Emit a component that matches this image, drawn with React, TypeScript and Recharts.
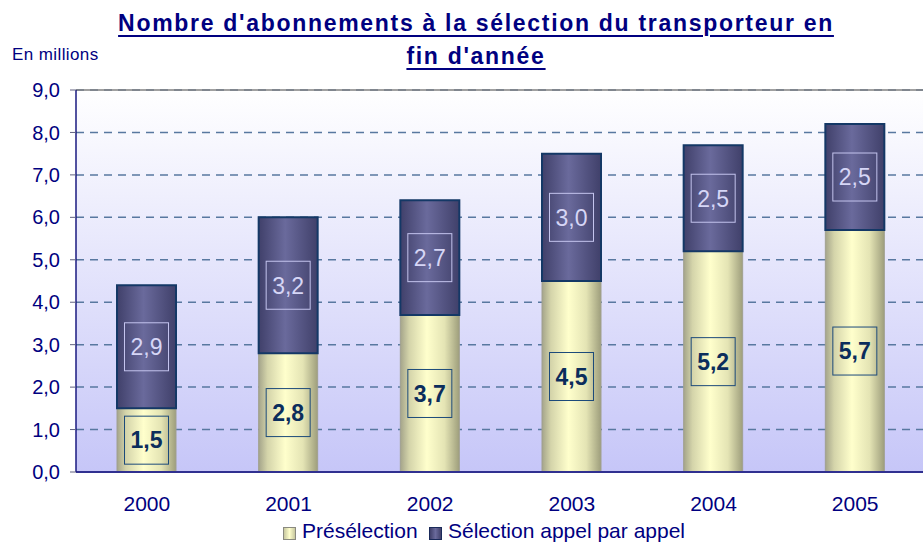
import React from 'react';
import { BarChart, Bar, XAxis, YAxis, CartesianGrid, ReferenceLine, LabelList } from 'recharts';

const years = ['2000', '2001', '2002', '2003', '2004', '2005'];
const preselection = [1.5, 2.8, 3.7, 4.5, 5.2, 5.7];
const selectionAppel = [2.9, 3.2, 2.7, 3.0, 2.5, 2.5];
const yTicks = [0, 1, 2, 3, 4, 5, 6, 7, 8, 9];
const boundaryTicks = [1, 2, 3, 4, 5, 6];

const titleLine1 = "Nombre d'abonnements à la sélection du transporteur en";
const titleLine2 = "fin d'année";
const unitLabel = 'En millions';
const legendPre = 'Présélection';
const legendSel = 'Sélection appel par appel';

const data = years.map((y, i) => ({ year: y, pre: preselection[i], sel: selectionAppel[i] }));

const FONT = '"Liberation Sans", Arial, sans-serif';
const NAVY = '#000080';

const fmt = (v: number) => v.toFixed(1).replace('.', ',');

const PreLabel = (props: any) => {
  const { x, y, width, height, value } = props;
  const cx = x + width / 2;
  const cy = y + height / 2;
  return (
    <g>
      <rect x={cx - 22} y={cy - 24} width={44} height={48} fill="none" stroke="#1c4a7a" strokeWidth={1} />
      <text x={cx} y={cy} dy="0.36em" textAnchor="middle" fontFamily={FONT} fontSize={23} fontWeight="bold" fill="#0b2d5c">
        {fmt(value)}
      </text>
    </g>
  );
};

const SelLabel = (props: any) => {
  const { x, y, width, height, value } = props;
  const cx = x + width / 2;
  const cy = y + height / 2;
  return (
    <g>
      <rect x={cx - 22} y={cy - 24} width={44} height={48} fill="none" stroke="#c4c4ee" strokeWidth={1} />
      <text x={cx} y={cy} dy="0.36em" textAnchor="middle" fontFamily={FONT} fontSize={23} fill="#d6d6f6">
        {fmt(value)}
      </text>
    </g>
  );
};

const XTick = (props: any) => {
  const { x, y, payload } = props;
  return (
    <text x={x} y={y + 39} textAnchor="middle" fontFamily={FONT} fontSize={21} fill={NAVY}>
      {payload.value}
    </text>
  );
};

export default function App() {
  return (
    <div style={{ position: 'fixed', left: 0, top: 0, width: 923, height: 542, overflow: 'hidden', background: '#fff', fontFamily: FONT }}>
      <BarChart width={940} height={542} data={data} margin={{ top: 90, right: 14, bottom: 0, left: 0 }} barCategoryGap={0}>
        <defs>
          <linearGradient id="bgGrad" x1="0" y1="0" x2="0" y2="1">
            <stop offset="0%" stopColor="#ffffff" />
            <stop offset="100%" stopColor="#c6c6f8" />
          </linearGradient>
          <linearGradient id="preGrad" x1="0" y1="0" x2="1" y2="0">
            <stop offset="0%" stopColor="#a4a48a" />
            <stop offset="15%" stopColor="#d4d4aa" />
            <stop offset="45%" stopColor="#ffffcc" />
            <stop offset="75%" stopColor="#e4e4b4" />
            <stop offset="100%" stopColor="#9e9e7c" />
          </linearGradient>
          <linearGradient id="selGrad" x1="0" y1="0" x2="1" y2="0">
            <stop offset="0%" stopColor="#40406a" />
            <stop offset="45%" stopColor="#6a6a9c" />
            <stop offset="100%" stopColor="#40406a" />
          </linearGradient>
        </defs>
        <CartesianGrid vertical={false} fill="url(#bgGrad)" stroke="#5878a0" strokeDasharray="8 6" strokeWidth={1.5} />
        <ReferenceLine y={9} stroke="#808080" strokeWidth={1.5} />
        <XAxis
          xAxisId="bounds"
          type="number"
          domain={[0, 6]}
          ticks={boundaryTicks}
          tick={false}
          axisLine={false}
          tickLine={{ stroke: '#303090', strokeWidth: 1.5 }}
          tickSize={6}
          height={0}
        />
        <XAxis
          dataKey="year"
          axisLine={{ stroke: '#303090', strokeWidth: 2 }}
          tickLine={false}
          tickSize={0}
          tickMargin={0}
          height={70}
          tick={<XTick />}
          interval={0}
        />
        <YAxis
          width={76}
          domain={[0, 9]}
          ticks={yTicks}
          tickFormatter={fmt}
          axisLine={{ stroke: '#1a1a80', strokeWidth: 1.5 }}
          tickLine={{ stroke: '#606080' }}
          tickSize={6}
          tickMargin={10}
          tick={{ fill: NAVY, fontSize: 20, fontFamily: FONT }}
        />
        <Bar dataKey="pre" stackId="a" barSize={59} fill="url(#preGrad)" stroke="#a0a090" strokeWidth={1} isAnimationActive={false}>
          <LabelList dataKey="pre" content={<PreLabel />} />
        </Bar>
        <Bar dataKey="sel" stackId="a" barSize={59} fill="url(#selGrad)" stroke="#143866" strokeWidth={2} isAnimationActive={false}>
          <LabelList dataKey="sel" content={<SelLabel />} />
        </Bar>
      </BarChart>

      <div
        style={{
          position: 'absolute', left: 76, top: 7, width: 800, textAlign: 'center',
          fontSize: 23, lineHeight: '33px', fontWeight: 'bold', color: NAVY, letterSpacing: '1.7px',
          textDecoration: 'underline', textDecorationThickness: '2px', textUnderlineOffset: '4px', fontFamily: FONT,
        }}
      >
        {titleLine1}
        <br />
        {titleLine2}
      </div>

      <div style={{ position: 'absolute', left: 12, top: 46, fontSize: 17, lineHeight: '17px', color: NAVY, letterSpacing: '0.4px', fontFamily: FONT }}>
        {unitLabel}
      </div>

      <div style={{ position: 'absolute', left: 283, top: 527, width: 11, height: 11, background: 'linear-gradient(90deg,#c8c8a0,#ffffcc,#c8c8a0)', border: '1px solid #8a8a80' }} />
      <div style={{ position: 'absolute', left: 302, top: 520, fontSize: 21, lineHeight: '21px', color: NAVY, fontFamily: FONT }}>{legendPre}</div>
      <div style={{ position: 'absolute', left: 429, top: 527, width: 11, height: 11, background: 'linear-gradient(90deg,#40406a,#6a6a9c,#40406a)', border: '1px solid #1a2a5a' }} />
      <div style={{ position: 'absolute', left: 448, top: 520, fontSize: 21, lineHeight: '21px', color: NAVY, fontFamily: FONT }}>{legendSel}</div>
    </div>
  );
}
